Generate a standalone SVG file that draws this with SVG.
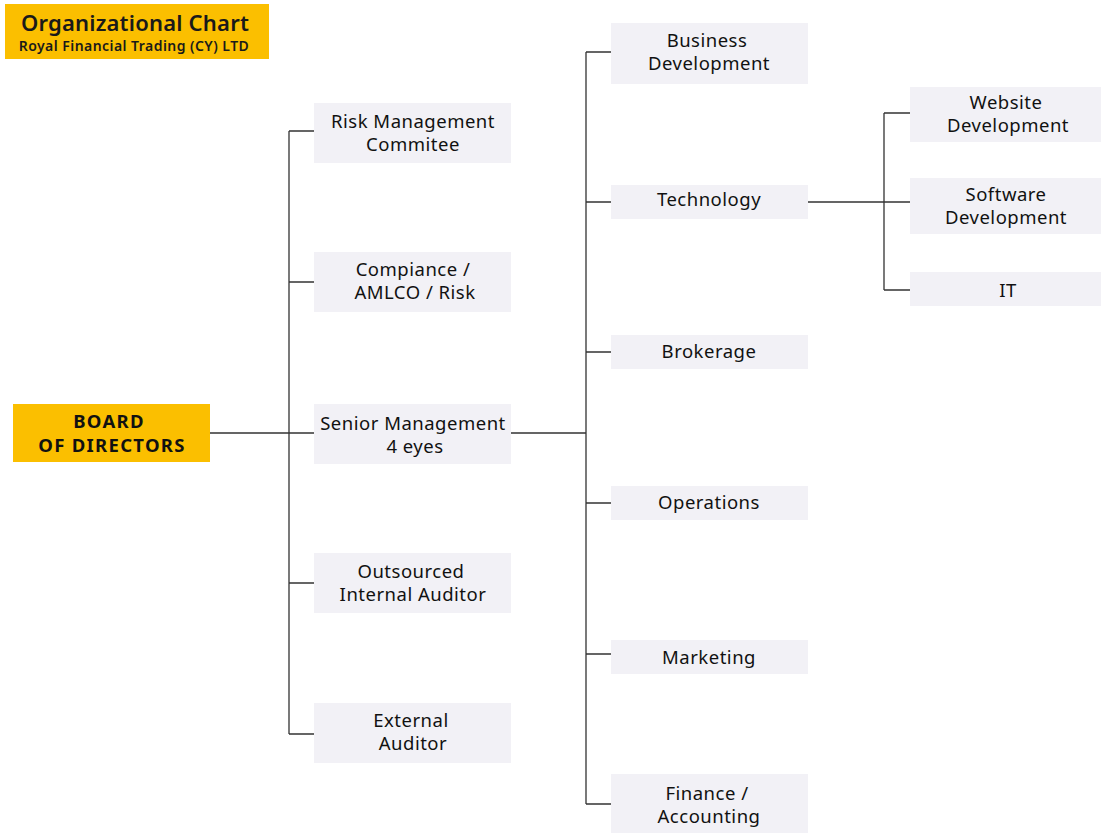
<svg xmlns="http://www.w3.org/2000/svg" width="1101" height="834" viewBox="0 0 1101 834">
<style>
.box{fill:#F2F1F6}
.yel{fill:#FBBF00}
.t{font-family:"Noto Sans",sans-serif;font-size:18.5px;letter-spacing:0.5px;fill:#111;text-anchor:middle}
.b{font-family:"Noto Sans",sans-serif;font-size:18.5px;letter-spacing:1.3px;font-weight:bold;fill:#111;text-anchor:middle}
.ln{stroke:#333;stroke-width:1.3;fill:none}
</style>
<rect width="1101" height="834" fill="#fff"/>
<g id="title">
<rect class="yel" x="5" y="4" width="264" height="55"/>
<text x="135" y="31" font-family="Noto Sans, sans-serif" font-size="22" letter-spacing="0.2" font-weight="600" fill="#1a1a1a" text-anchor="middle">Organizational Chart</text>
<text x="134" y="51" font-family="Noto Sans, sans-serif" font-size="14" letter-spacing="0.45" font-weight="600" fill="#1a1a1a" text-anchor="middle">Royal Financial Trading (CY) LTD</text>
</g>
<g id="connectors">
<path class="ln" d="M210 433H314M289 131V734M289 131H314M289 282H314M289 583H314M289 734H314"/>
<path class="ln" d="M511 433H586M586 52V804M586 52H611M586 202H611M586 352H611M586 503H611M586 654H611M586 804H611"/>
<path class="ln" d="M808 202H910M884 113V290M884 113H910M884 290H910"/>
</g>
<g id="board"><rect class="yel" x="13" y="404" width="197" height="58"/><text class="b" x="109" y="428">BOARD</text><text class="b" x="112" y="452">OF DIRECTORS</text></g>
<g id="risk"><rect class="box" x="314" y="103" width="197" height="60"/><text class="t" x="413" y="128">Risk Management</text><text class="t" x="413" y="151">Commitee</text></g>
<g id="compliance"><rect class="box" x="314" y="252" width="197" height="60"/><text class="t" x="413" y="276">Compiance /</text><text class="t" x="415" y="299">AMLCO / Risk</text></g>
<g id="senior"><rect class="box" x="314" y="404" width="197" height="60"/><text class="t" x="413" y="430">Senior Management</text><text class="t" x="415" y="453">4 eyes</text></g>
<g id="outsourced"><rect class="box" x="314" y="553" width="197" height="60"/><text class="t" x="411" y="578">Outsourced</text><text class="t" x="413" y="601">Internal Auditor</text></g>
<g id="external"><rect class="box" x="314" y="703" width="197" height="60"/><text class="t" x="411" y="727">External</text><text class="t" x="413" y="750">Auditor</text></g>
<g id="business"><rect class="box" x="611" y="23" width="197" height="61"/><text class="t" x="707" y="47">Business</text><text class="t" x="709" y="70">Development</text></g>
<g id="technology"><rect class="box" x="611" y="185" width="197" height="34"/><text class="t" x="709" y="206">Technology</text></g>
<g id="brokerage"><rect class="box" x="611" y="335" width="197" height="34"/><text class="t" x="709" y="358">Brokerage</text></g>
<g id="operations"><rect class="box" x="611" y="486" width="197" height="34"/><text class="t" x="709" y="509">Operations</text></g>
<g id="marketing"><rect class="box" x="611" y="640" width="197" height="34"/><text class="t" x="709" y="664">Marketing</text></g>
<g id="finance"><rect class="box" x="611" y="774" width="197" height="59"/><text class="t" x="707" y="800">Finance /</text><text class="t" x="709" y="823">Accounting</text></g>
<g id="website"><rect class="box" x="910" y="87" width="191" height="55"/><text class="t" x="1006" y="109">Website</text><text class="t" x="1008" y="132">Development</text></g>
<g id="software"><rect class="box" x="910" y="178" width="191" height="56"/><text class="t" x="1006" y="201">Software</text><text class="t" x="1006" y="224">Development</text></g>
<g id="it"><rect class="box" x="910" y="272" width="191" height="34"/><text class="t" x="1008" y="297">IT</text></g>
</svg>
